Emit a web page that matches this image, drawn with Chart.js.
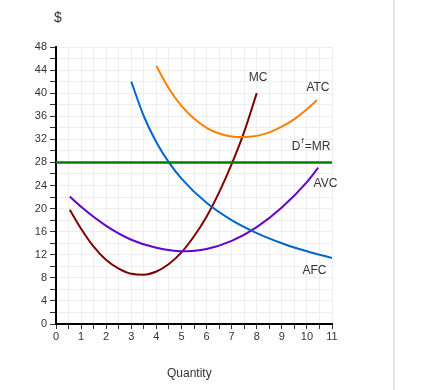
<!DOCTYPE html>
<html>
<head>
<meta charset="utf-8">
<script src="https://cdn.jsdelivr.net/npm/chart.js@4.4.1/dist/chart.umd.min.js"></script>
<style>
  body { margin: 0; background: #fff; font-family: "Liberation Sans", Arial, sans-serif; }
  #wrap { position: relative; width: 438px; height: 390px; }
  .txt { position: absolute; color: #333; }
  #edge { position: absolute; left: 393px; top: 0; width: 2px; height: 390px; background: #e6e6e6; }
</style>
</head>
<body>
<div id="wrap">
  <canvas id="costChart" width="438" height="390"></canvas>
  <div class="txt" style="left:54px; top:9px; font-size:14px;">$</div>
  <div class="txt" style="left:167px; top:366px; font-size:12px;">Quantity</div>
  <div id="edge"></div>
</div>
<script>
// values
let mcQ   = [0.55, 1, 1.5, 2, 2.5, 3, 3.5, 4, 4.5, 5, 5.5, 6, 6.5, 7, 7.5, 8]
let mcVal = [19.8, 16.5, 13.4, 11.1, 9.6, 8.7, 8.55, 9.1, 10.4, 12.4, 15.2, 18.6, 22.8, 27.7, 33.3, 40]

let atcQ   = [4, 4.5, 5, 5.5, 6, 6.5, 7, 7.5, 8, 8.5, 9, 9.5, 10, 10.4]
let atcVal = [44.7, 40.8, 37.8, 35.6, 34.0, 33.0, 32.5, 32.4, 32.6, 33.2, 34.2, 35.5, 37.2, 38.8]

let avcQ   = [0.55, 1, 2, 3, 4, 5, 6, 7, 8, 9, 10, 10.45]
let avcVal = [22.1, 20.3, 17.0, 14.6, 13.2, 12.6, 13.0, 14.4, 16.8, 20.2, 24.6, 27.1]

let afcQ   = [3, 3.5, 4, 4.5, 5, 6, 7, 8, 9, 10, 11]
let afcVal = [42, 36, 31.5, 28, 25.2, 21, 18, 15.75, 14, 12.6, 11.45]

let mrQ   = [0, 11]
let mrVal = [28, 28]

const mcColor = '#800000'
const atcColor = '#ff8000'
const avcColor = '#6600cc'
const afcColor = '#0066cc'
const mrColor = '#008000'

function pts(q, v) {
    return q.map(function(x, i) { return {x: x, y: v[i]}; });
}

function line(q, v, color, width) {
    return {
        data: pts(q, v),
        borderColor: color,
        borderWidth: width,
        showLine: true,
        pointRadius: 0,
        cubicInterpolationMode: 'monotone',
        fill: false
    };
}

// curve names placed in data units
const curveLabels = {
    id: 'curveLabels',
    afterDatasetsDraw(chart) {
        const {ctx, scales: {x, y}} = chart;
        ctx.save()
        ctx.font = '12px "Liberation Sans", Arial, sans-serif'
        ctx.fillStyle = '#333'
        ctx.textAlign = 'center'
        ctx.textBaseline = 'middle'
        ctx.fillText('MC', x.getPixelForValue(8.05), y.getPixelForValue(42.7))
        ctx.fillText('ATC', x.getPixelForValue(10.44), y.getPixelForValue(40.9))
        ctx.fillText('AVC', x.getPixelForValue(10.74), y.getPixelForValue(24.4))
        ctx.fillText('AFC', x.getPixelForValue(10.3), y.getPixelForValue(9.2))

        // D^f=MR
        ctx.textAlign = 'left'
        let px = x.getPixelForValue(9.4)
        let py = y.getPixelForValue(30.7)
        ctx.fillText('D', px, py)
        px += ctx.measureText('D').width + 1
        ctx.font = '8px "Liberation Sans", Arial, sans-serif'
        ctx.fillText('f', px, py - 6)
        px += ctx.measureText('f').width + 1
        ctx.font = '12px "Liberation Sans", Arial, sans-serif'
        ctx.fillText('=MR', px, py)
        ctx.restore()
    }
}

let ctx = document.getElementById('costChart').getContext('2d');

new Chart(ctx, {
    type: 'scatter',
    data: {
        datasets: [
            line(mrQ, mrVal, mrColor, 2.5),
            line(afcQ, afcVal, afcColor, 2),
            line(avcQ, avcVal, avcColor, 2),
            line(atcQ, atcVal, atcColor, 2),
            line(mcQ, mcVal, mcColor, 2)
        ]
    },
    plugins: [curveLabels],
    options: {
        responsive: false,
        devicePixelRatio: 1,
        animation: false,
        layout: {
            padding: {left: 0, top: 47, right: 106, bottom: 44}
        },
        scales: {
            x: {
                type: 'linear',
                min: 0,
                max: 11,
                afterFit(scale) { scale.height = 22 },
                border: {color: '#000', width: 2},
                grid: {color: '#eeeeee', tickColor: '#333', tickLength: 5},
                ticks: {
                    stepSize: 0.5,
                    autoSkip: false,
                    maxRotation: 0,
                    padding: 1,
                    color: '#333',
                    font: {size: 11, family: '"Liberation Sans", Arial, sans-serif'},
                    callback: function(v) { return Number.isInteger(v) ? v : ''; }
                }
            },
            y: {
                min: 0,
                max: 48,
                afterFit(scale) { scale.width = 56 },
                border: {color: '#000', width: 2},
                grid: {color: '#eeeeee', tickColor: '#333', tickLength: 6},
                ticks: {
                    stepSize: 2,
                    autoSkip: false,
                    padding: 3,
                    color: '#333',
                    font: {size: 11, family: '"Liberation Sans", Arial, sans-serif'},
                    callback: function(v) { return v % 4 === 0 ? v : ''; }
                }
            }
        },
        plugins: {
            legend: {display: false},
            tooltip: {enabled: false}
        }
    }
});
</script>
</body>
</html>
